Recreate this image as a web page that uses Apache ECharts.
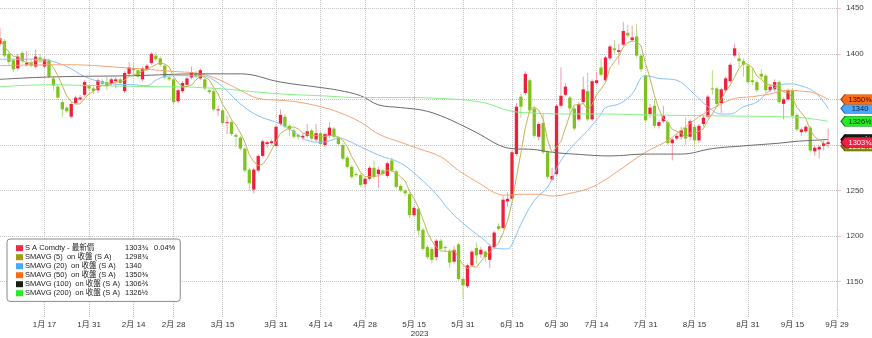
<!DOCTYPE html>
<html><head><meta charset="utf-8">
<script src="https://cdn.jsdelivr.net/npm/echarts@6/dist/echarts.min.js"></script>
<style>html,body{margin:0;padding:0;background:#fff}#c{width:872px;height:338px}</style>
</head><body><div id="c"></div>
<script>
// trading calendar (CBOT-style), categories are trading days
const holidays = ['2023-01-02','2023-01-16','2023-02-20','2023-05-29','2023-06-19','2023-07-04','2023-09-04'];
function buildDays(){
  const out=[]; let t=Date.UTC(2022,11,30); const end=Date.UTC(2023,8,29);
  while(t<=end){ const d=new Date(t); const wd=d.getUTCDay(); const s=d.toISOString().slice(0,10);
    if(wd!==0&&wd!==6&&!holidays.includes(s)) out.push(s); t+=86400000; }
  return out;
}
const categories = buildDays();

const tickDates = ['2023-01-17','2023-01-31','2023-02-14','2023-02-28','2023-03-15','2023-03-31','2023-04-14','2023-04-28','2023-05-15','2023-05-31','2023-06-15','2023-06-30','2023-07-14','2023-07-31','2023-08-15','2023-08-31','2023-09-15','2023-09-29'];
const tickLabels = ['1月 17','1月 31','2月 14','2月 28','3月 15','3月 31','4月 14','4月 28','5月 15','5月 31','6月 15','6月 30','7月 14','7月 31','8月 15','8月 31','9月 15','9月 29'];
const yearLabelDate = '2023-05-15';
const yearLabel = '2023';

const opens = [1411,1414,1400,1393,1384,1401,1388,1390,1386,1396, 1386,1393,1373,1364,1347,1341,1331,1346,1350,1355, 1365,1362,1360,1370,1369,1367,1370,1372,1359,1378, 1384,1382,1372,1383,1390,1398,1395,1387,1374,1372, 1348,1359,1366,1374,1379,1373,1372,1360,1359,1338, 1338,1324,1325,1311,1308,1296,1273,1251,1272,1288, 1301,1302,1299,1323,1331,1321,1316,1311,1308,1310, 1316,1306,1313,1300,1310,1318,1308,1300,1286,1276, 1268,1267,1257,1263,1275,1268,1272,1266,1283,1271, 1255,1250,1246,1223,1230,1207,1188,1186,1177,1195, 1188,1184,1172,1191,1153,1145,1168,1187,1180,1183, 1174,1188,1211,1209,1238,1241,1290,1353,1357,1371, 1340,1309,1324,1292,1262,1268,1343,1355,1352,1340, 1328,1347,1359,1328,1368,1385,1371,1395,1406,1402, 1410,1423,1415,1419,1398,1376,1334,1343,1321,1326, 1325,1302,1307,1309,1319,1309,1320,1305,1323,1331, 1362,1362,1346,1360,1370,1398,1395,1392,1387,1371, 1369,1378,1376,1360,1361,1369,1345,1350,1360,1333, 1314,1315,1319,1293,1295,1299,1301];
const closes = [1417,1398,1391,1383,1397,1392,1390,1387,1397,1394, 1394,1375,1365,1352,1339,1337,1345,1352,1352,1369, 1362,1359,1371,1367,1365,1372,1372,1368,1379,1385, 1382,1375,1384,1387,1400,1394,1388,1374,1372,1347, 1360,1368,1373,1380,1375,1382,1362,1358,1339,1339, 1324,1325,1312,1309,1296,1272,1258,1273,1288,1304, 1303,1304,1320,1333,1320,1317,1309,1309,1310,1315, 1307,1313,1301,1312,1319,1309,1301,1285,1276,1265, 1267,1256,1263,1275,1265,1273,1268,1280,1272,1254, 1250,1247,1223,1231,1206,1186,1177,1174,1195,1186, 1187,1171,1185,1153,1146,1168,1183,1179,1185,1177, 1189,1204,1208,1240,1241,1292,1342,1342,1378,1338, 1310,1323,1292,1265,1266,1343,1354,1364,1340,1318, 1345,1361,1328,1370,1371,1377,1396,1408,1404,1404, 1425,1420,1418,1398,1383,1327,1341,1321,1325,1332, 1302,1306,1310,1316,1307,1326,1305,1321,1330,1353, 1361,1345,1361,1373,1388,1406,1392,1388,1369,1369, 1360,1375,1360,1364,1369,1347,1350,1360,1332,1317, 1317,1320,1294,1297,1298,1302,1303];
const lows = [1408,1396,1388,1380,1382,1390,1386,1385,1384,1390, 1384,1373,1360,1350,1330,1335,1329,1344,1348,1353, 1359,1356,1357,1365,1360,1365,1362,1366,1357,1376, 1377,1373,1370,1381,1388,1392,1386,1372,1370,1345, 1346,1357,1364,1372,1373,1371,1360,1356,1337,1332, 1322,1312,1310,1298,1294,1270,1250,1247,1270,1286, 1297,1300,1297,1321,1318,1310,1307,1306,1305,1308, 1305,1304,1299,1298,1308,1307,1299,1283,1274,1263, 1265,1254,1253,1261,1263,1253,1266,1264,1270,1252, 1248,1244,1220,1221,1201,1184,1175,1170,1173,1184, 1182,1165,1170,1151,1131,1143,1166,1170,1176,1172, 1165,1186,1206,1207,1232,1239,1288,1330,1355,1336, 1308,1305,1290,1263,1260,1266,1341,1353,1336,1316, 1326,1345,1326,1326,1366,1375,1369,1393,1400,1388, 1408,1418,1413,1396,1380,1325,1330,1318,1318,1324, 1300,1283,1305,1306,1300,1305,1298,1302,1320,1329, 1355,1342,1335,1358,1368,1396,1385,1375,1367,1366, 1358,1372,1357,1358,1359,1345,1328,1348,1330,1315, 1310,1313,1292,1288,1285,1294,1297];
const highs = [1428,1416,1402,1395,1400,1403,1403,1393,1405,1400, 1396,1395,1375,1366,1349,1343,1347,1354,1355,1371, 1366,1364,1373,1372,1375,1374,1375,1374,1381,1391, 1391,1384,1386,1389,1402,1402,1397,1389,1376,1374, 1362,1370,1375,1386,1381,1384,1374,1362,1361,1343, 1340,1332,1327,1313,1310,1298,1275,1275,1290,1306, 1305,1306,1322,1339,1334,1323,1318,1312,1312,1323, 1318,1323,1315,1314,1325,1320,1310,1302,1288,1278, 1270,1269,1265,1277,1283,1276,1274,1282,1286,1273, 1257,1252,1248,1233,1232,1209,1190,1188,1197,1197, 1190,1186,1189,1193,1155,1170,1185,1193,1188,1185, 1191,1206,1214,1244,1248,1294,1346,1356,1381,1373, 1342,1325,1334,1294,1275,1345,1385,1368,1354,1342, 1347,1375,1379,1372,1380,1395,1398,1410,1415,1411, 1435,1432,1431,1433,1400,1378,1345,1350,1327,1343, 1327,1308,1312,1320,1330,1328,1322,1323,1333,1355, 1382,1364,1363,1375,1390,1411,1402,1395,1389,1385, 1371,1383,1378,1367,1372,1371,1352,1362,1362,1335, 1319,1322,1321,1299,1300,1305,1318];

// moving averages: [trading-day index, value]
const ma20 = [[0,1394],[10,1394],[11,1393],[15,1386],[19,1375],[22,1370],[25,1367],[30,1366],[33,1365],[35,1371],[37,1375],[40,1376],[45,1376],[49,1368],[54,1345],[58,1332],[63,1323],[67,1311],[69,1305],[72,1303],[75,1306],[76,1308],[78,1305],[81,1298],[85,1289],[90,1280],[94,1265],[98,1246],[101,1228],[105,1210],[109,1195],[111,1187],[114,1186],[115,1191],[117,1213],[120,1239],[123,1254],[126,1283],[129,1301],[132,1316],[135,1334],[136,1341],[139,1345],[142,1356],[144,1374],[145,1376],[148,1373],[152,1371],[155,1360],[159,1342],[162,1334],[164,1334],[167,1342],[170,1347],[173,1360],[177,1367],[179,1366],[183,1358],[186,1340]];
const ma50 = [[0,1387],[15,1388],[30,1384],[38,1381],[45,1378],[49,1372],[54,1360],[58,1351],[63,1349],[67,1347],[72,1342],[76,1336],[81,1325],[85,1312],[90,1303],[94,1296],[99,1287],[103,1272],[108,1257],[112,1246],[114,1245],[117,1246],[121,1246],[124,1244],[129,1248],[132,1252],[135,1259],[139,1272],[145,1292],[150,1305],[154,1320],[158,1334],[162,1345],[165,1351],[169,1353],[173,1356],[177,1360],[180,1359],[183,1357],[186,1350]];
const ma100 = [[0,1372],[8,1374],[15,1375],[30,1376],[45,1378],[54,1378],[63,1369],[72,1363],[76,1360],[81,1354],[85,1344],[90,1341],[95,1338],[99,1332],[104,1321],[108,1311],[112,1300],[115,1296],[120,1295],[124,1292],[129,1290],[137,1288],[145,1290],[153,1290],[160,1296],[167,1299],[175,1302],[179,1304],[186,1306]];
const ma200 = [[0,1364],[11,1366],[22,1365],[34,1364],[45,1363],[63,1356],[72,1354],[81,1352],[90,1352],[99,1351],[108,1347],[115,1337],[120,1335],[126,1334],[135,1334],[145,1333],[160,1332],[175,1331],[180,1330],[186,1326]];

const seriesNames = ['S A Comdty - 最新價','SMAVG (5)  on 收盤 (S A)','SMAVG (20)  on 收盤 (S A)','SMAVG (50)  on 收盤 (S A)','SMAVG (100)  on 收盤 (S A)','SMAVG (200)  on 收盤 (S A)'];
const legendValues = ['1303¾','1298¾','1340','1350⅜','1306⅖','1326½'];
const legendPct = ['0.04%','','','','',''];

const ma5 = closes.map((c,i)=>{const s=closes.slice(Math.max(0,i-4),i+1);return [i, s.reduce((a,b)=>a+b,0)/s.length];});

const FONT = '"Liberation Sans","Noto Sans CJK TC",sans-serif';
const tickSet = new Set(tickDates.map(d=>categories.indexOf(d)));
const tickInterval = (idx)=>tickSet.has(idx);
const lastCat = categories[categories.length-1];
const tagPath = 'path://M0,5L4,0L34,0L34,10L4,10Z';

function tag(value, text, fill, border, txt, z){
  return {symbol: tagPath, symbolSize:[34,10], symbolOffset:[21,0], silent:true, z: z,
    itemStyle:{color:fill, borderColor:border, borderWidth:0.8},
    label:{show:true, position:'inside', formatter:text, color:txt, fontSize:7.5, fontFamily:FONT, offset:[2,0.5]},
    data:[{coord:[lastCat, value]}]};
}

const lineColors = ['#c2b455','#86c2f6','#f6a274','#6a6a6a','#86ee86'];
const legendColors = ['#ee2a48','#a39a10','#4aa6ff','#ff6a14','#142014','#22ee22'];

const candleData = opens.map((o,i)=>[i,o,closes[i],lows[i],highs[i]]);

const chart = echarts.init(document.getElementById('c'));
chart.setOption({
  animation:false,
  backgroundColor:'#fff',
  grid:{left:0, right:35, top:0, bottom:28, outerBoundsMode:'none'},
  xAxis:{type:'category', data:categories, boundaryGap:false,
    axisLine:{show:false},
    axisTick:{show:true, interval:tickInterval, length:8, lineStyle:{color:'#b8b8b8', type:'dotted'}},
    splitLine:{show:true, interval:tickInterval, lineStyle:{color:'#c4c4c4', type:'dotted'}},
    axisLabel:{interval:tickInterval, margin:10, fontSize:8, color:'#333', fontFamily:FONT, lineHeight:9,
      formatter:(v)=>{const k=tickDates.indexOf(v); if(k<0) return ''; return tickLabels[k]+(v===yearLabelDate?'\n     '+yearLabel:'');}}
  },
  yAxis:{type:'value', position:'right', min:1119, max:1459, splitNumber:6, scale:true,
    axisLine:{show:true, lineStyle:{color:'#f4c4cc'}},
    axisTick:{show:true, length:4, lineStyle:{color:'#f4c4cc'}},
    axisLabel:{margin:9, fontSize:8, color:'#444', fontFamily:FONT, showMinLabel:false, showMaxLabel:false, formatter:(v)=>String(v)},
    splitLine:{show:true, showMinLine:false, showMaxLine:false, lineStyle:{color:'#c4c4c4', type:'dotted'}}
  },
  legend:{orient:'vertical', left:7, top:239, selectedMode:false, icon:'rect', itemWidth:7, itemHeight:6, itemGap:0.6,
    padding:[5,5,4,9], backgroundColor:'#fff', borderColor:'#8a8a8a', borderWidth:1, borderRadius:3,
    textStyle:{fontSize:7.5, color:'#222', fontFamily:FONT, lineHeight:8.4, padding:[0,0,0,-3],
      rich:{n:{width:100, fontSize:7.5, fontFamily:FONT, color:'#222'}, v:{width:29, fontSize:7.5, fontFamily:FONT, color:'#222'}, p:{fontSize:7.5, fontFamily:FONT, color:'#222'}}},
    formatter:(name)=>{const k=seriesNames.indexOf(name); return '{n|'+name+'}{v|'+legendValues[k]+'}{p|'+legendPct[k]+'}';},
    data: seriesNames.map((n,k)=>({name:n, itemStyle:{color:legendColors[k], borderWidth:0}}))
  },
  graphic:[{type:'group', left:10, top:246, silent:true, children:[
    {type:'rect', shape:{x:0, y:0, width:4, height:4}, style:{fill:'#fff', stroke:'#999', lineWidth:0.8}},
    {type:'line', shape:{x1:2, y1:4, x2:2, y2:45}, style:{stroke:'#aaa', lineDash:[1,1], lineWidth:0.8}}
  ]}],
  series:[
    {name:seriesNames[0], type:'custom', clip:true, z:2, itemStyle:{color:legendColors[0]},
      encode:{x:0, y:[1,2,3,4]}, data:candleData,
      renderItem:(params, api)=>{
        const x=api.value(0), o=api.value(1), c=api.value(2), l=api.value(3), h=api.value(4);
        const pO=api.coord([x,o]), pC=api.coord([x,c]), pL=api.coord([x,l]), pH=api.coord([x,h]);
        const up = c>=o; const w=3.3;
        const top=Math.min(pO[1],pC[1]); const hgt=Math.max(1,Math.abs(pO[1]-pC[1]));
        return {type:'group', children:[
          {type:'line', shape:{x1:pH[0], y1:pH[1], x2:pL[0], y2:pL[1]}, style:{stroke: up?'#f69aaa':'#b2dc7c', lineWidth:1}},
          {type:'rect', shape:{x:pO[0]-w/2, y:top, width:w, height:hgt}, style:{fill: up?'#f0203c':'#80c21c'}}
        ]};
      }
    },
    {name:seriesNames[1], type:'line', z:4, data:ma5, showSymbol:false, smooth:false, lineStyle:{width:1, color:lineColors[0]}, itemStyle:{color:lineColors[0]},
      markPoint: tag(ma5[ma5.length-1][1], '1298¾', '#8a8a10', '#5a5a00', '#fff', 6)},
    {name:seriesNames[2], type:'line', z:3, data:ma20, showSymbol:false, smooth:0.4, lineStyle:{width:1, color:lineColors[1]}, itemStyle:{color:lineColors[1]},
      markPoint: tag(ma20[ma20.length-1][1], '1340', '#48a8ff', '#2a6ab0', '#08203a', 5)},
    {name:seriesNames[3], type:'line', z:3, data:ma50, showSymbol:false, smooth:0.4, lineStyle:{width:1, color:lineColors[2]}, itemStyle:{color:lineColors[2]},
      markPoint: tag(ma50[ma50.length-1][1], '1350⅜', '#ff6a14', '#a84000', '#2a1000', 5)},
    {name:seriesNames[4], type:'line', z:3, data:ma100, showSymbol:false, smooth:0.4, lineStyle:{width:1, color:lineColors[3]}, itemStyle:{color:lineColors[3]},
      markPoint: tag(ma100[ma100.length-1][1], '1306⅖', '#141c14', '#000', '#fff', 4)},
    {name:seriesNames[5], type:'line', z:3, data:ma200, showSymbol:false, smooth:0.4, lineStyle:{width:1, color:lineColors[4]}, itemStyle:{color:lineColors[4]},
      markPoint: tag(ma200[ma200.length-1][1], '1326½', '#22ee22', '#108010', '#002200', 5)},
    {name:'price-tag', type:'line', z:8, data:[[closes.length-1, closes[closes.length-1]]], showSymbol:false, lineStyle:{width:0},
      markPoint: tag(closes[closes.length-1], '1303¾', '#f01e44', '#a00020', '#fff', 7)}
  ]
});
</script></body></html>
